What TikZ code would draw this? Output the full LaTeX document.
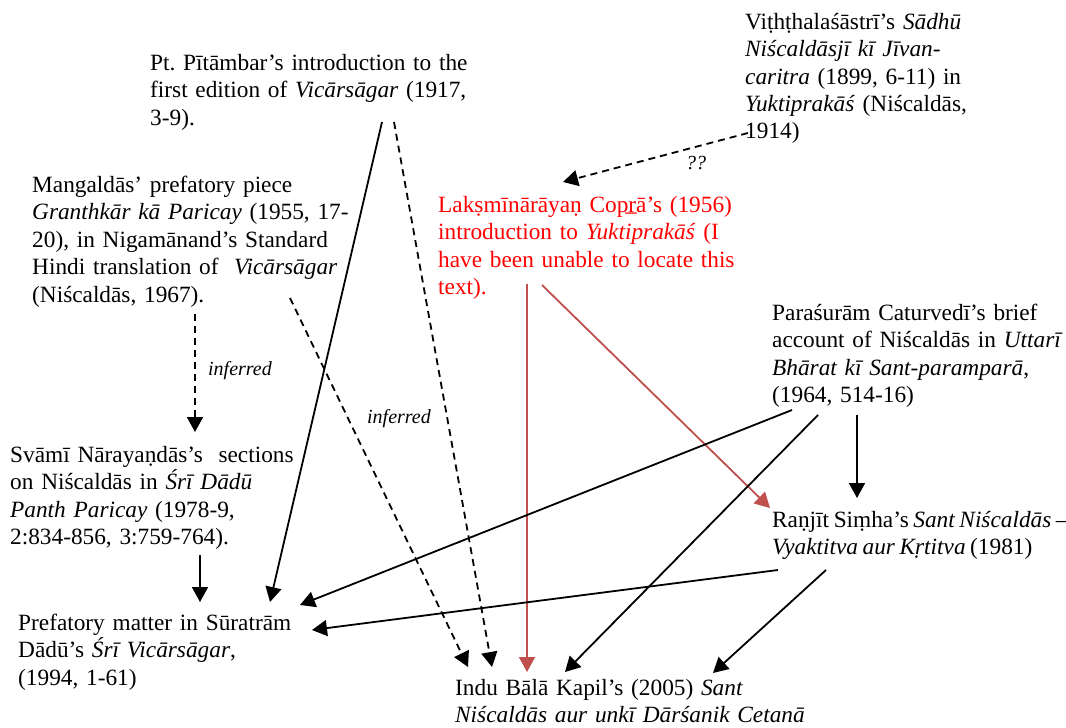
\documentclass[tikz,border=0pt]{standalone}
\usepackage{fontspec}
\setmainfont{Liberation Serif}
\usetikzlibrary{arrows.meta}
\definecolor{txtred}{RGB}{255,0,0}
\definecolor{arrred}{RGB}{192,80,77}
\tikzset{
  blk/.style={anchor=base west, inner sep=0pt, text width=400pt, align=left,
    font=\fontsize{23.3}{27.5}\selectfont\frenchspacing},
  lbl/.style={inner sep=0pt, font=\fontsize{20}{24}\selectfont\itshape},
  tip/.style={-{Triangle[length=15pt,width=16pt]}},
  arr/.style={tip, line width=1.8pt, black},
  dsh/.style={tip, line width=1.8pt, black, dash pattern=on 7pt off 5pt},
  redarr/.style={tip, line width=1.8pt, arrred},
}
\begin{document}
\begin{tikzpicture}[x=1pt,y=-1pt]
\useasboundingbox[fill=white] (0,0) rectangle (1066,728);

\node[blk] (pit) at (150,70) {Pt. P\={\i}t\={a}mbar’s introduction to the\\
first edition of \textit{Vic\={a}rs\={a}gar} (1917,\\ 3-9).};

\node[blk] (vit) at (745,29) {Vi\d{t}h\d{t}hala\'{s}\={a}str\={\i}’s \textit{S\={a}dh\={u}}\\
\textit{Ni\'{s}cald\={a}sj\={\i} k\={\i} J\={\i}van-}\\
\textit{caritra} (1899, 6-11) in\\
\textit{Yuktiprak\={a}\'{s}} (Ni\'{s}cald\={a}s,\\ 1914)};

\node[blk] (man) at (32,192) {Mangald\={a}s’ prefatory piece\\
\textit{Granthk\={a}r k\={a} Paricay} (1955, 17-\\
20), in Nigam\={a}nand’s Standard\\
Hindi translation of \ \textit{Vic\={a}rs\={a}gar}\\
(Ni\'{s}cald\={a}s, 1967).};

\node[blk, text=txtred] (lak) at (438,212) {Lak\d{s}m\={\i}n\={a}r\={a}ya\d{n} Cop\b{r}\={a}’s (1956)\\
introduction to \textit{Yuktiprak\={a}\'{s}} (I\\
have been unable to locate this\\
text).};

\node[blk] (par) at (772,320) {Para\'{s}ur\={a}m Caturved\={\i}’s brief\\
account of Ni\'{s}cald\={a}s in \textit{Uttar\={\i}}\\
\textit{Bh\={a}rat k\={\i} Sant-parampar\={a}},\\
(1964, 514-16)};

\node[blk] (sva) at (10,462) {Sv\={a}m\={\i} N\={a}raya\d{n}d\={a}s’s \ sections\\
on Ni\'{s}cald\={a}s in \textit{\'{S}r\={\i} D\={a}d\={u}}\\
\textit{Panth Paricay} (1978-9,\\
2:834-856, 3:759-764).};

\node[blk] (ran) at (772,527) {\spaceskip=4.6pt\relax Ra\d{n}j\={\i}t Si\d{m}ha’s \textit{Sant Ni\'{s}cald\={a}s –}\\
\textit{Vyaktitva aur K\d{r}titva} (1981)};

\node[blk] (pre) at (18,630) {Prefatory matter in S\={u}ratr\={a}m\\
D\={a}d\={u}’s \textit{\'{S}r\={\i} Vic\={a}rs\={a}gar},\\
(1994, 1-61)};

\node[blk] (ind) at (455,695) {Indu B\={a}l\={a} Kapil’s (2005) \textit{Sant}\\
\textit{Ni\'{s}cald\={a}s aur unk\={\i} D\={a}r\'{s}anik Cetan\={a}}};

% connectors
\draw[arr] ([shift={(232,52)}]pit.base west) -- ([shift={(252,-28)}]pre.base west);
\draw[dsh] ([shift={(244,52)}]pit.base west) -- ([shift={(37,-28)}]ind.base west);
\draw[dsh] ([shift={(258,106)}]man.base west) -- ([shift={(13,-28)}]ind.base west);
\draw[dsh] ([shift={(163,122)}]man.base west) -- ([shift={(185,-30)}]sva.base west);
\draw[dsh] ([shift={(3,104)}]vit.base west) -- ([shift={(125,-30)}]lak.base west);
\draw[redarr] ([shift={(89,72)}]lak.base west) -- ([shift={(72,-23)}]ind.base west);
\draw[redarr] ([shift={(104,73)}]lak.base west) -- ([shift={(-2,-19)}]ran.base west);
\draw[arr] ([shift={(20,90)}]par.base west) -- ([shift={(282,-25)}]pre.base west);
\draw[arr] ([shift={(46,95)}]par.base west) -- ([shift={(110,-23)}]ind.base west);
\draw[arr] ([shift={(85,95)}]par.base west) -- ([shift={(85,-29)}]ran.base west);
\draw[arr] ([shift={(190,93)}]sva.base west) -- ([shift={(182,-28)}]pre.base west);
\draw[arr] ([shift={(6,43)}]ran.base west) -- ([shift={(294,0)}]pre.base west);
\draw[arr] ([shift={(54,43)}]ran.base west) -- ([shift={(258,-22)}]ind.base west);

% labels
\node[lbl] (inf1) at (240,371) {inferred};
\node[lbl] (inf2) at (399,419) {inferred};
\node[lbl] (qq) at (696,163) {??};
\end{tikzpicture}
\end{document}
